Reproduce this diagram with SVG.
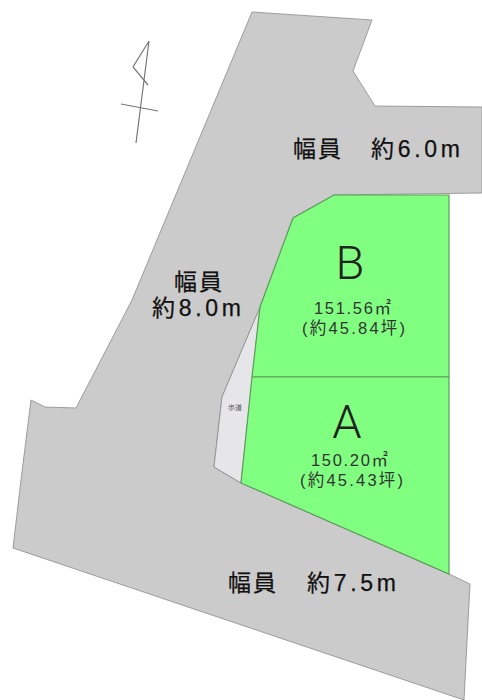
<svg xmlns="http://www.w3.org/2000/svg" width="482" height="700" viewBox="0 0 482 700">
<style>
text{font-family:"Liberation Sans","Noto Sans CJK JP",sans-serif;fill:#111}
.road{font-size:23px;stroke:#111;stroke-width:0.25}
.big{font-family:Roboto,"Liberation Sans",sans-serif;font-weight:300;font-size:47px;fill:#222;text-anchor:middle}
.area{font-size:16.5px;fill:#333}
.lot{fill:#80ff80;stroke:#5c9c5c;stroke-width:1.2}
.n{fill:none;stroke:#777;stroke-width:1.2}
</style>
<rect width="482" height="700" fill="#fff"/>
<g id="road">
<polygon points="252,12 372,20 353,71 375,106 482,107 482,193 334,195 293,218 261,305 222,397 214,467 241,483 449,574 470,584 464,700 13,548 21,480 31,400 45,407 76,408 132,300" fill="#cbcbcb" stroke="#8a8a8a" stroke-width="0.8"/>
</g>
<g id="sidewalk">
<polygon points="260,307 222,397 214,467 241,483" fill="#e6e6e8" stroke="#8a8a8a" stroke-width="0.8"/>
<text x="228" y="410" font-size="7" style="fill:#555">歩道</text>
</g>
<g id="lot-b">
<polygon class="lot" points="334,195 449,195 449,377 252,377 260,307 293,218"/>
<text class="big" x="350" y="279">B</text>
<text class="area" x="314" y="314" textLength="77">151.56㎡</text>
<text class="area" x="302" y="334" textLength="103">(約45.84坪)</text>
</g>
<g id="lot-a">
<polygon class="lot" points="252,377 449,377 449,574 241,483"/>
<text class="big" x="347" y="438">A</text>
<text class="area" x="311" y="466" textLength="77">150.20㎡</text>
<text class="area" x="300" y="486" textLength="103">(約45.43坪)</text>
</g>
<g id="north">
<path class="n" d="M149,41 L136,143 M149,41 L133,67 L148,85 M121,104 L158,111"/>
</g>
<g id="labels">
<text class="road" x="293" y="157" textLength="48">幅員</text>
<text class="road" x="371" y="157" textLength="89">約6.0m</text>
<text class="road" x="174" y="290" textLength="48">幅員</text>
<text class="road" x="152" y="316" textLength="89">約8.0m</text>
<text class="road" x="228" y="591" textLength="48">幅員</text>
<text class="road" x="307" y="591" textLength="89">約7.5m</text>
</g>
</svg>
